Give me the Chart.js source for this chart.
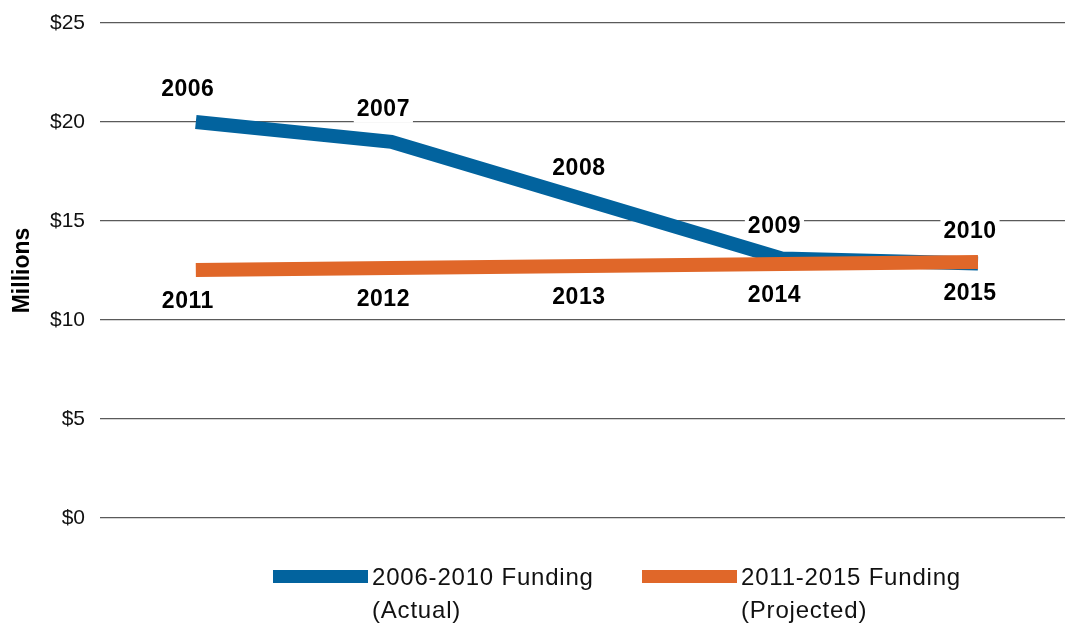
<!DOCTYPE html>
<html>
<head>
<meta charset="utf-8">
<script src="https://cdn.jsdelivr.net/npm/chart.js@4.4.1/dist/chart.umd.min.js"></script>
<style>
  html, body { margin: 0; padding: 0; background: #fff; }
  #wrap { width: 1067px; height: 623px; }
</style>
</head>
<body>
<div id="wrap"><canvas id="draw-on-me"></canvas></div>
<script>
// funding in millions
const actualYears = ['2006', '2007', '2008', '2009', '2010']
const actualFunding = [20.0, 19.0, 16.05, 13.1, 12.85]
const projectedYears = ['2011', '2012', '2013', '2014', '2015']
const projectedFunding = [12.53, 12.63, 12.73, 12.83, 12.93]
const legendText = [['2006-2010 Funding', '(Actual)'], ['2011-2015 Funding', '(Projected)']]
const yTicks = [0, 5, 10, 15, 20, 25]

const blue = '#02639E'
const orange = '#E06729'

// year labels above the actual line, below the projected one
const yearLabels = {
  id: 'yearLabels',
  beforeDatasetsDraw(chart) {
    const ctx = chart.ctx
    ctx.save()
    ctx.font = 'bold 23px "Liberation Sans", Arial, sans-serif'
    ctx.letterSpacing = '0.5px'
    ctx.textAlign = 'center'
    ctx.textBaseline = 'middle'
    chart.data.datasets.forEach((ds, di) => {
      const meta = chart.getDatasetMeta(di)
      meta.data.forEach((pt, i) => {
        const txt = ds.years[i]
        const x = pt.x - 8
        const y = pt.y + (ds.labelSide === 'above' ? -33 : 31)
        const w = ctx.measureText(txt).width + 6
        ctx.fillStyle = '#fff'
        ctx.fillRect(x - w / 2, y - 14, w, 28)
        ctx.fillStyle = '#000'
        ctx.fillText(txt, x, y + 1)
      })
    })
    ctx.restore()
  },
  afterDraw(chart) {
    const ctx = chart.ctx
    const swatchX = [273, 642]
    ctx.save()
    ctx.font = '24px "Liberation Sans", Arial, sans-serif'
    ctx.letterSpacing = '0.8px'
    ctx.textBaseline = 'middle'
    ctx.textAlign = 'left'
    legendText.forEach((lines, i) => {
      ctx.fillStyle = chart.data.datasets[i].borderColor
      ctx.fillRect(swatchX[i], 570, 95, 13)
      ctx.fillStyle = '#111'
      lines.forEach((ln, j) => ctx.fillText(ln, swatchX[i] + 99, 578 + j * 33))
    })
    ctx.restore()
  }
}

const ctx = document.getElementById('draw-on-me').getContext('2d')
const myChart = new Chart(ctx, {
  type: 'line',
  data: {
    datasets: [{
      label: 'Actual',
      years: actualYears,
      labelSide: 'above',
      data: actualFunding.map((v, i) => ({ x: i, y: v })),
      borderColor: blue,
      borderWidth: 14,
      borderCapStyle: 'butt',
      borderJoinStyle: 'miter',
      pointRadius: 0,
      fill: false,
      order: 2
    }, {
      label: 'Projected',
      years: projectedYears,
      labelSide: 'below',
      data: projectedFunding.map((v, i) => ({ x: i, y: v })),
      borderColor: orange,
      borderWidth: 14,
      borderCapStyle: 'butt',
      pointRadius: 0,
      fill: false,
      order: 1
    }]
  },
  options: {
    responsive: true,
    maintainAspectRatio: false,
    animation: false,
    layout: { padding: { top: 23, right: 2, bottom: 105, left: 0 } },
    plugins: { legend: { display: false }, tooltip: { enabled: false } },
    scales: {
      x: { type: 'linear', min: -0.49, max: 4.445, display: false },
      y: {
        min: 0,
        max: 25,
        afterBuildTicks: (s) => { s.ticks = yTicks.map(v => ({ value: v })) },
        afterFit: (s) => { s.width = 100; s.paddingTop = 0; s.paddingBottom = 0 },
        border: { display: false },
        grid: { color: '#5a5a5a', lineWidth: 1.2, drawTicks: false },
        ticks: {
          padding: 15,
          color: '#111',
          font: { family: '"Liberation Sans", Arial', size: 21 },
          callback: (v) => '$' + v
        },
        title: {
          display: true,
          text: 'Millions',
          color: '#000',
          font: { family: '"Liberation Sans", Arial', size: 23, weight: 'bold' },
          padding: { top: 9, bottom: 0 }
        }
      }
    }
  },
  plugins: [yearLabels]
})
</script>
</body>
</html>
